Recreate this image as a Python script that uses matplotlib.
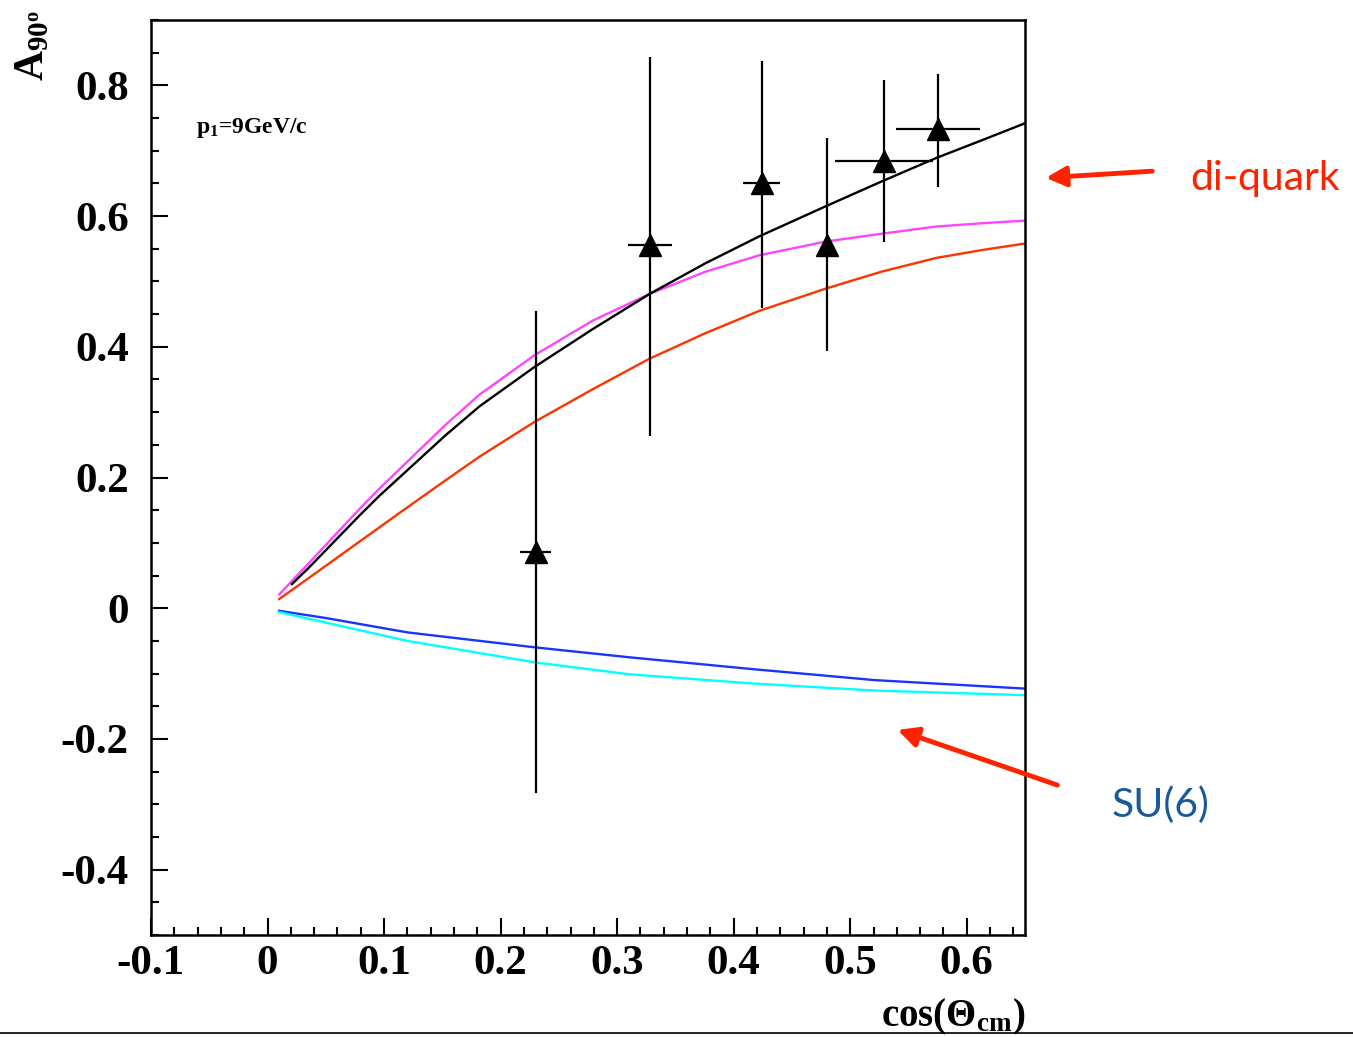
import matplotlib
matplotlib.use("Agg")
import matplotlib.pyplot as plt
from matplotlib.ticker import MultipleLocator, FixedLocator
from matplotlib.lines import Line2D
from matplotlib.patches import FancyArrowPatch

plt.rcParams['font.family'] = ['Liberation Serif', 'DejaVu Serif']
plt.rcParams['font.weight'] = 'bold'
plt.rcParams['mathtext.fontset'] = 'custom'
plt.rcParams['mathtext.rm'] = 'Liberation Serif:bold'
plt.rcParams['mathtext.it'] = 'Liberation Serif:bold'
plt.rcParams['mathtext.bf'] = 'Liberation Serif:bold'

# Data points
x_data = [0.230, 0.328, 0.424, 0.480, 0.529, 0.575]
y_data = [0.086, 0.555, 0.650, 0.556, 0.684, 0.733]
y_err_lo = [0.368, 0.291, 0.190, 0.162, 0.123, 0.088]
y_err_hi = [0.369, 0.289, 0.188, 0.164, 0.124, 0.084]
x_err = [0.013, 0.019, 0.016, 0.0, 0.042, 0.036]

# Model curves
x_black = [0.021, 0.036, 0.079, 0.096, 0.153, 0.182, 0.229, 0.279, 0.328, 0.376, 0.422, 0.479, 0.527, 0.574, 0.613, 0.650]
y_black = [0.037, 0.063, 0.142, 0.172, 0.265, 0.309, 0.369, 0.427, 0.481, 0.528, 0.569, 0.615, 0.653, 0.689, 0.716, 0.742]

x_magenta = [0.010, 0.036, 0.079, 0.096, 0.153, 0.182, 0.229, 0.279, 0.328, 0.376, 0.422, 0.479, 0.527, 0.574, 0.613, 0.650]
y_magenta = [0.021, 0.070, 0.152, 0.183, 0.281, 0.327, 0.387, 0.440, 0.481, 0.515, 0.540, 0.561, 0.573, 0.584, 0.589, 0.593]

x_red = [0.010, 0.036, 0.079, 0.115, 0.153, 0.182, 0.229, 0.279, 0.328, 0.376, 0.422, 0.479, 0.527, 0.574, 0.613, 0.650]
y_red = [0.014, 0.047, 0.102, 0.148, 0.196, 0.232, 0.285, 0.335, 0.382, 0.421, 0.455, 0.489, 0.515, 0.536, 0.548, 0.558]

x_blue = [0.010, 0.050, 0.120, 0.230, 0.310, 0.415, 0.521, 0.650]
y_blue = [-0.004, -0.015, -0.037, -0.060, -0.075, -0.093, -0.110, -0.123]

x_cyan = [0.010, 0.050, 0.120, 0.230, 0.310, 0.415, 0.521, 0.650]
y_cyan = [-0.006, -0.022, -0.050, -0.083, -0.101, -0.115, -0.126, -0.133]

x_ticks = [-0.1, 0, 0.1, 0.2, 0.3, 0.4, 0.5, 0.6]
x_ticklabels = ['-0.1', '0', '0.1', '0.2', '0.3', '0.4', '0.5', '0.6']
y_ticks = [-0.4, -0.2, 0, 0.2, 0.4, 0.6, 0.8]
y_ticklabels = ['-0.4', '-0.2', '0', '0.2', '0.4', '0.6', '0.8']

fig = plt.figure(figsize=(13.53, 10.37), dpi=100)
ax = fig.add_axes([151/1353, 1-935/1037, (1025-151)/1353, (935-20)/1037])

ax.plot(x_magenta, y_magenta, color='#ff44ff', lw=1.7)
ax.plot(x_black, y_black, color='black', lw=1.7)
ax.plot(x_red, y_red, color='#ff3300', lw=1.7)
ax.plot(x_blue, y_blue, color='#1a33ff', lw=1.7)
ax.plot(x_cyan, y_cyan, color='#00ffff', lw=1.7)

ax.errorbar(x_data, y_data, yerr=[y_err_lo, y_err_hi], xerr=x_err,
            fmt='^', color='black', ms=16, elinewidth=1.6, capsize=0, zorder=5)

ax.set_xlim(-0.1, 0.65)
ax.set_ylim(-0.5, 0.9)
ax.xaxis.set_major_locator(FixedLocator(x_ticks))
ax.yaxis.set_major_locator(FixedLocator(y_ticks))
ax.set_xticklabels(x_ticklabels)
ax.set_yticklabels(y_ticklabels)
ax.xaxis.set_minor_locator(MultipleLocator(0.02))
ax.yaxis.set_minor_locator(MultipleLocator(0.05))
ax.tick_params(which='both', direction='in', top=False, right=False, width=1.5)
ax.tick_params(which='major', length=12, labelsize=31)
ax.tick_params(axis='y', which='major', pad=16)
ax.tick_params(axis='x', which='major', pad=7)
ax.tick_params(which='minor', length=6)
for lab in ax.get_xticklabels() + ax.get_yticklabels():
    lab.set_fontweight('bold')
for s in ax.spines.values():
    s.set_linewidth(1.8)

ax.text(-0.061, 0.734, r'p$_{1}$=9GeV/c', fontsize=17, fontweight='bold',
        va='center', ha='left')

fig.text(33/1353, 1-45/1037, r'$\mathrm{A_{90^o}}$', rotation=90, fontsize=30,
         ha='center', va='center')
fig.text(1025/1353, 1-1017/1037, r'cos($\mathrm{\Theta_{cm}}$)', fontsize=28,
         ha='right', va='center')

fig.add_artist(Line2D([0, 1], [1-1033/1037, 1-1033/1037], color='black', lw=1.2,
                      transform=fig.transFigure))

fig.text(1190/1353, 1-178/1037, 'di-quark', fontsize=29.5, color='#ff2200',
         family='Lato', fontweight='normal', ha='left', va='center')
fig.text(1112/1353, 1-805/1037, 'SU(6)', fontsize=29.5, color='#1a5a9a',
         family='Lato', fontweight='normal', ha='left', va='center')

fig.add_artist(FancyArrowPatch((1155/1353, 1-171/1037), (1043/1353, 1-178/1037),
                               transform=fig.transFigure, arrowstyle='-|>,head_length=12,head_width=6',
                               color='#ff2200', lw=3.5, mutation_scale=1))
fig.add_artist(FancyArrowPatch((1060/1353, 1-786/1037), (895/1353, 1-729/1037),
                               transform=fig.transFigure, arrowstyle='-|>,head_length=12,head_width=6',
                               color='#ff2200', lw=3.5, mutation_scale=1))

fig.savefig('out.png', dpi=100)
